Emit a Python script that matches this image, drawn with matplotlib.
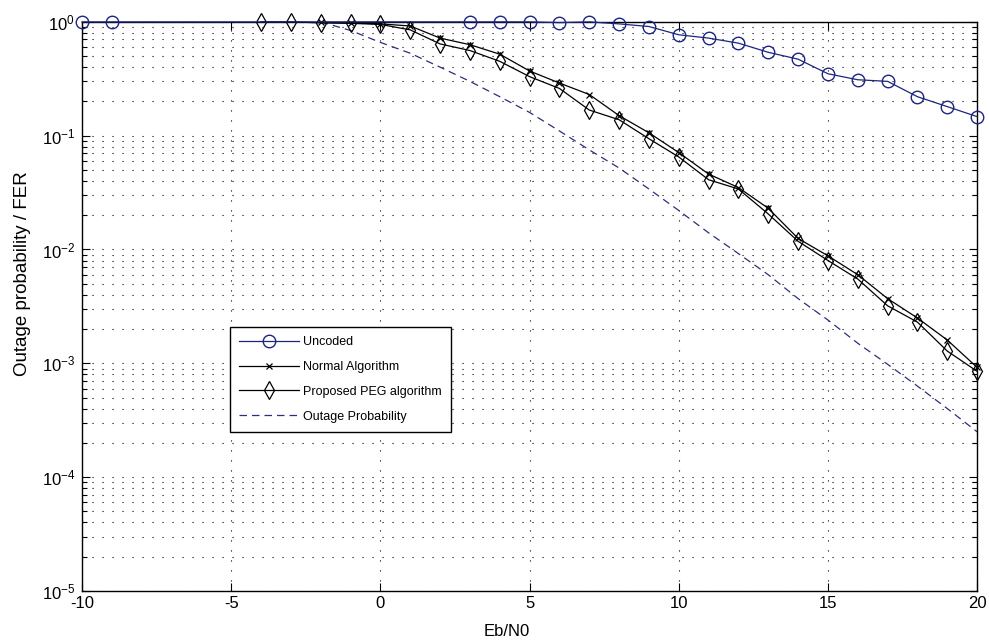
import numpy as np
import matplotlib
matplotlib.use('Agg')
import matplotlib.pyplot as plt
from matplotlib.ticker import LogLocator, NullFormatter, FixedLocator

plt.rcParams['font.family'] = ['Liberation Sans', 'DejaVu Sans']
plt.rcParams['mathtext.fontset'] = 'custom'
plt.rcParams['mathtext.rm'] = 'Liberation Sans'
plt.rcParams['mathtext.it'] = 'Liberation Sans'
plt.rcParams['axes.unicode_minus'] = False

# values
uncoded_x = [-10, -9, 3, 4, 5, 6, 7, 8, 9, 10, 11, 12, 13, 14, 15, 16, 17, 18, 19, 20]
uncoded_y = [1.0, 1.0, 1.0, 1.0, 1.0, 0.985, 1.0, 0.96, 0.91, 0.77, 0.72, 0.65,
             0.54, 0.47, 0.35, 0.31, 0.30, 0.22, 0.18, 0.147]

normal_x = list(range(-2, 21))
normal_y = [0.99, 0.98, 0.96, 0.92, 0.72, 0.63, 0.52, 0.37, 0.29, 0.23, 0.15, 0.106,
            0.071, 0.046, 0.035, 0.023, 0.0125, 0.0088, 0.0060, 0.0037, 0.0025,
            0.0016, 0.00092]

peg_x = list(range(-4, 21))
peg_y = [1.0, 1.0, 0.98, 0.97, 0.95, 0.85, 0.64, 0.56, 0.45, 0.33, 0.26, 0.168,
         0.138, 0.094, 0.065, 0.041, 0.034, 0.0205, 0.0118, 0.0080, 0.0055,
         0.0032, 0.0023, 0.00128, 0.00085]

outage_x = list(range(-2, 21))
outage_y = [1.0, 0.84, 0.66, 0.53, 0.40, 0.30, 0.22, 0.16, 0.11, 0.075, 0.052, 0.034,
            0.022, 0.014, 0.0092, 0.0060, 0.0037, 0.0024, 0.0015, 0.00098,
            0.00063, 0.00040, 0.00025]

fig = plt.figure(figsize=(9.89, 6.43), dpi=100)
ax = fig.add_axes([0.083, 0.081, 0.905, 0.885])

navy = '#1c2580'
ax.semilogy(uncoded_x, uncoded_y, color=navy, marker='o', ms=9, mfc='none',
            mew=1.0, lw=0.9, label='Uncoded', clip_on=False, zorder=4)
ax.semilogy(normal_x, normal_y, color='black', marker='x', ms=5, mew=0.9,
            lw=0.9, label='Normal Algorithm', clip_on=False, zorder=3)
ax.semilogy(peg_x, peg_y, color='black', marker='d', ms=9, mfc='none',
            mew=0.9, lw=0.9, label='Proposed PEG algorithm', clip_on=False, zorder=3)
ax.semilogy(outage_x, outage_y, color='#2a2f7a', ls=(0, (6, 4)), lw=0.9,
            label='Outage Probability', zorder=2)

ax.set_xlim(-10, 20)
ax.set_ylim(1e-5, 1)
ax.xaxis.set_major_locator(FixedLocator([-10, -5, 0, 5, 10, 15, 20]))
ax.yaxis.set_major_locator(LogLocator(base=10, numticks=10))
ax.yaxis.set_minor_locator(LogLocator(base=10, subs=np.arange(2, 10), numticks=10))
ax.yaxis.set_minor_formatter(NullFormatter())

dots = (0, (1, 8))
ax.grid(True, which='major', axis='both', color='black', ls=dots, lw=0.8)
ax.grid(True, which='minor', axis='y', color='black', ls=dots, lw=0.8)

ax.tick_params(which='both', direction='in', top=True, right=True, labelsize=12)
ax.tick_params(which='major', length=6, width=0.8)
ax.tick_params(which='minor', length=3.5, width=0.8)
ax.tick_params(axis='y', which='major', pad=5)
ax.tick_params(axis='x', which='major', pad=4)
for s in ax.spines.values():
    s.set_linewidth(1.0)

ax.set_xlabel('Eb/N0', fontsize=12)
ax.xaxis.set_label_coords(0.475, -0.058)
ax.set_ylabel('Outage probability / FER', fontsize=13.5)
ax.yaxis.set_label_coords(-0.057, 0.557)

leg = ax.legend(loc='upper left', bbox_to_anchor=(0.165, 0.464), borderaxespad=0,
                fontsize=9, numpoints=1, handlelength=4.8, labelspacing=1.02,
                fancybox=False, framealpha=1, edgecolor='black', handletextpad=0.3,
                borderpad=0.75)
leg.get_frame().set_linewidth(1.0)

fig.savefig('out.png', dpi=100)
